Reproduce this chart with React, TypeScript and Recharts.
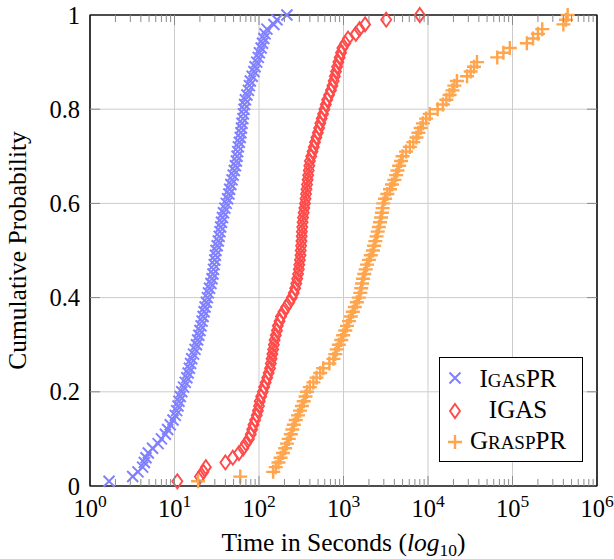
import React from 'react';
import { ScatterChart, Scatter, XAxis, YAxis, CartesianGrid, Legend, ReferenceArea } from 'recharts';

// Run times in seconds, sorted ascending (empirical CDF, one point per instance)
const IGASPR_TIMES = [
  1.68, 3.2, 3.7, 4.2, 4.4, 4.6, 4.9, 5.5, 6.4, 7.0,
  7.8, 8.3, 8.9, 9.6, 10.2, 10.6, 11.0, 11.3, 11.7, 12.2,
  12.8, 13.4, 14.0, 14.5, 15.0, 15.5, 16.0, 16.8, 17.5, 18.2,
  18.8, 19.4, 20.0, 20.6, 21.2, 21.8, 22.4, 23.0, 23.8, 24.5,
  25.2, 26.0, 27.0, 27.8, 28.5, 29.0, 29.5, 30.0, 30.5, 31.0,
  32.0, 33.0, 33.8, 34.5, 35.2, 36.0, 37.0, 38.0, 39.5, 41.0,
  42.5, 44.0, 45.0, 46.5, 48.0, 49.5, 51.0, 52.5, 54.0, 55.0,
  56.0, 57.0, 58.5, 60.0, 61.0, 62.0, 63.0, 64.5, 65.5, 66.5,
  67.5, 69.0, 72.0, 75.0, 77.0, 79.0, 83.0, 87.0, 90.0, 94.0,
  98.0, 101, 106, 110, 114, 118, 124, 150, 163, 214,
];

const IGAS_TIMES = [
  10.8, 20, 22, 23.5, 40, 49, 58, 65, 70, 76,
  80, 83, 86, 90, 94, 97, 100, 102, 106, 111,
  115, 120, 125, 130, 135, 138, 141, 144, 147, 150,
  153, 158, 163, 167, 175, 182, 195, 210, 228, 245,
  258, 268, 276, 283, 290, 296, 300, 305, 310, 312,
  315, 318, 320, 322, 325, 328, 332, 338, 344, 350,
  355, 360, 365, 370, 376, 382, 388, 394, 400, 415,
  430, 445, 460, 478, 497, 515, 532, 552, 573, 595,
  618, 640, 675, 710, 740, 765, 790, 815, 840, 870,
  900, 935, 970, 1050, 1130, 1400, 1550, 1800, 3200, 8000,
];

const GRASPPR_TIMES = [
  19, 60, 147, 158, 170, 180, 192, 204, 214, 225,
  238, 248, 258, 272, 290, 306, 322, 338, 355, 370,
  400, 440, 480, 530, 575, 680, 760, 800, 830, 880,
  940, 990, 1050, 1100, 1160, 1220, 1290, 1360, 1440, 1520,
  1580, 1620, 1660, 1700, 1760, 1830, 1900, 2000, 2100, 2230,
  2300, 2380, 2460, 2540, 2620, 2700, 2780, 2850, 2900, 2950,
  3100, 3300, 3550, 3750, 4000, 4200, 4350, 4550, 4800, 5000,
  5500, 6100, 6700, 7300, 7700, 8200, 8700, 9500, 10500, 13000,
  15000, 16500, 18000, 19500, 20500, 22000, 29000, 32000, 35000, 38000,
  66000, 78000, 93000, 148000, 175000, 200000, 225000, 400000, 430000, 450000,
];

const X_MAJOR_TICKS = [1, 10, 100, 1000, 10000, 100000, 1000000];
const X_TICK_EXPONENTS = ['0', '1', '2', '3', '4', '5', '6'];
const MINOR_MULTIPLIERS = [2, 3, 4, 5, 6, 7, 8, 9];
const X_MINOR_TICKS = X_MAJOR_TICKS.slice(0, -1).flatMap((d) => MINOR_MULTIPLIERS.map((m) => m * d));
const X_ALL_TICKS = [...X_MAJOR_TICKS, ...X_MINOR_TICKS].sort((a, b) => a - b);
const Y_TICKS = [0, 0.2, 0.4, 0.6, 0.8, 1];
const Y_TICK_LABELS = ['0', '0.2', '0.4', '0.6', '0.8', '1'];

const X_TITLE = 'Time in Seconds (';
const Y_TITLE = 'Cumulative Probability';

const FONT = '"Liberation Serif", "Times New Roman", serif';
const BLUE = '#8080ff';
const RED = '#ff4a4a';
const ORANGE = '#ffa54d';
const FRAME = '#1a1a1a';
const GRID = '#cccccc';
const TICK = '#8a8a8a';
const MAJOR_LEN = 10;
const MINOR_LEN = 7;
const TICK_FS = 24.5;
const TITLE_FS = 25.5;
const SUP_FS = 17.5;

const toCdf = (times: number[]) => times.map((t, i) => ({ x: t, y: (i + 1) / times.length }));

const drawCross = (cx: number, cy: number, color: string) => {
  const r = 5.5;
  return (
    <path
      d={`M${cx - r},${cy - r}L${cx + r},${cy + r}M${cx - r},${cy + r}L${cx + r},${cy - r}`}
      stroke={color}
      strokeWidth={2}
      fill="none"
    />
  );
};
const drawDiamond = (cx: number, cy: number, color: string) => {
  const w = 5;
  const h = 7;
  return (
    <path
      d={`M${cx},${cy - h}L${cx + w},${cy}L${cx},${cy + h}L${cx - w},${cy}Z`}
      stroke={color}
      strokeWidth={1.9}
      fill="none"
    />
  );
};
const drawPlus = (cx: number, cy: number, color: string) => {
  const r = 7;
  return (
    <path
      d={`M${cx - r},${cy}L${cx + r},${cy}M${cx},${cy - r}L${cx},${cy + r}`}
      stroke={color}
      strokeWidth={2.4}
      fill="none"
    />
  );
};

const CrossShape = (p: any) => drawCross(p.cx, p.cy, BLUE);
const DiamondShape = (p: any) => drawDiamond(p.cx, p.cy, RED);
const PlusShape = (p: any) => drawPlus(p.cx, p.cy, ORANGE);
const EmptyShape = () => <g />;

const isMajorX = (v: number) => X_MAJOR_TICKS.indexOf(v) >= 0;
const isEdgeX = (v: number) => v === X_MAJOR_TICKS[0] || v === X_MAJOR_TICKS[X_MAJOR_TICKS.length - 1];

// bottom axis: inward tick mark + label for decades
const XBottomTick = (props: any) => {
  const { x, y, payload } = props;
  const idx = X_MAJOR_TICKS.indexOf(payload.value);
  const major = idx >= 0;
  const len = major ? MAJOR_LEN : MINOR_LEN;
  return (
    <g>
      {!isEdgeX(payload.value) && <line x1={x} y1={y} x2={x} y2={y - len} stroke={TICK} strokeWidth={1} />}
      {major && (
        <text x={x} y={y + 31} textAnchor="middle" fontFamily={FONT} fontSize={TICK_FS} fill="#000">
          <tspan>10</tspan>
          <tspan dy={-10} fontSize={SUP_FS}>{X_TICK_EXPONENTS[idx]}</tspan>
        </text>
      )}
    </g>
  );
};

// top axis: inward tick marks only
const XTopTick = (props: any) => {
  const { x, y, payload } = props;
  const len = isMajorX(payload.value) ? MAJOR_LEN : MINOR_LEN;
  if (isEdgeX(payload.value)) return <g />;
  return <line x1={x} y1={y} x2={x} y2={y + len} stroke={TICK} strokeWidth={1} />;
};

const YLeftTick = (props: any) => {
  const { x, y, payload } = props;
  const idx = Y_TICKS.indexOf(payload.value);
  const edge = idx === 0 || idx === Y_TICKS.length - 1;
  return (
    <g>
      {!edge && <line x1={x} y1={y} x2={x + MAJOR_LEN} y2={y} stroke={TICK} strokeWidth={1} />}
      <text x={x - 10} y={y + 8.5} textAnchor="end" fontFamily={FONT} fontSize={TICK_FS} fill="#000">
        {Y_TICK_LABELS[idx]}
      </text>
    </g>
  );
};

const YRightTick = (props: any) => {
  const { x, y, payload } = props;
  const idx = Y_TICKS.indexOf(payload.value);
  if (idx === 0 || idx === Y_TICKS.length - 1) return <g />;
  return <line x1={x} y1={y} x2={x - MAJOR_LEN} y2={y} stroke={TICK} strokeWidth={1} />;
};

const XTitle = (props: any) => {
  const vb = props.viewBox || { x: 90, y: 486, width: 507, height: 73 };
  const cx = vb.x + vb.width / 2;
  const by = vb.y + 65;
  return (
    <text x={cx} y={by} textAnchor="middle" fontFamily={FONT} fontSize={TITLE_FS} fill="#000">
      <tspan>{X_TITLE}</tspan>
      <tspan fontStyle="italic">log</tspan>
      <tspan dy={5} fontSize={SUP_FS}>10</tspan>
      <tspan dy={-5}>)</tspan>
    </text>
  );
};

const YTitle = (props: any) => {
  const vb = props.viewBox || { x: 0, y: 15, width: 90, height: 471 };
  const cy = vb.y + vb.height / 2;
  const bx = vb.x + 26;
  return (
    <text
      x={bx}
      y={cy}
      transform={`rotate(-90, ${bx}, ${cy})`}
      textAnchor="middle"
      fontFamily={FONT}
      fontSize={TITLE_FS}
      fill="#000"
    >
      {Y_TITLE}
    </text>
  );
};

type Seg = { t: string; sc?: boolean };
const LEGEND_LABELS: Seg[][] = [
  [{ t: 'I' }, { t: 'GAS', sc: true }, { t: 'PR' }],
  [{ t: 'IGAS' }],
  [{ t: 'G' }, { t: 'RASP', sc: true }, { t: 'PR' }],
];
const LEGEND_MARKERS = [drawCross, drawDiamond, drawPlus];
const LEGEND_COLORS = [BLUE, RED, ORANGE];

const LegendBox = () => {
  const rowCenters = [21, 54, 85];
  const baselines = [29.5, 61, 92];
  return (
    <svg width={144} height={105} style={{ display: 'block' }}>
      <rect x={0.5} y={0.5} width={143} height={104} fill="#fff" stroke="#000" strokeWidth={1} />
      {LEGEND_LABELS.map((segs, i) => (
        <g key={i}>
          {LEGEND_MARKERS[i](16, rowCenters[i], LEGEND_COLORS[i])}
          <text x={79} y={baselines[i]} textAnchor="middle" fontFamily={FONT} fontSize={25} fill="#000">
            {segs.map((s, j) => (
              <tspan key={j} fontSize={s.sc ? 19 : 25}>{s.t}</tspan>
            ))}
          </text>
        </g>
      ))}
    </svg>
  );
};

const logAxisCommon = {
  type: 'number' as const,
  scale: 'log' as const,
  domain: [1, 1000000] as [number, number],
  interval: 0 as const,
  allowDataOverflow: true,
};

const IGASPR_CDF = toCdf(IGASPR_TIMES);
const IGAS_CDF = toCdf(IGAS_TIMES);
const GRASPPR_CDF = toCdf(GRASPPR_TIMES);

export default function App() {
  return (
    <div style={{ position: 'absolute', left: 0, top: 0, width: 614, height: 559, background: '#fff' }}>
      <ScatterChart width={614} height={559} margin={{ top: 14, right: 16, bottom: 0, left: 0 }}>
        <XAxis xAxisId="grid" dataKey="x" {...logAxisCommon} ticks={X_MAJOR_TICKS} hide />
        <CartesianGrid xAxisId="grid" stroke={GRID} strokeWidth={1} />
        <XAxis
          dataKey="x"
          {...logAxisCommon}
          ticks={X_ALL_TICKS}
          height={73}
          tickSize={0}
          tickMargin={0}
          tickLine={false}
          tick={<XBottomTick />}
          axisLine={{ stroke: FRAME, strokeWidth: 1.2 }}
          label={<XTitle />}
        />
        <XAxis
          xAxisId="top"
          dataKey="x"
          orientation="top"
          {...logAxisCommon}
          ticks={X_ALL_TICKS}
          height={1}
          tickSize={0}
          tickMargin={0}
          tickLine={false}
          tick={<XTopTick />}
          axisLine={{ stroke: FRAME, strokeWidth: 1.2 }}
        />
        <YAxis
          dataKey="y"
          type="number"
          domain={[0, 1]}
          ticks={Y_TICKS}
          interval={0}
          width={90}
          tickSize={0}
          tickMargin={0}
          tickLine={false}
          tick={<YLeftTick />}
          axisLine={{ stroke: FRAME, strokeWidth: 1.2 }}
          label={<YTitle />}
        />
        <YAxis
          yAxisId="right"
          dataKey="y"
          orientation="right"
          type="number"
          domain={[0, 1]}
          ticks={Y_TICKS}
          interval={0}
          width={1}
          tickSize={0}
          tickMargin={0}
          tickLine={false}
          tick={<YRightTick />}
          axisLine={{ stroke: FRAME, strokeWidth: 1.2 }}
        />
        {/* invisible helper series so the auxiliary axes get a scale */}
        <Scatter xAxisId="grid" data={IGASPR_CDF} shape={EmptyShape} legendType="none" isAnimationActive={false} />
        <Scatter xAxisId="top" yAxisId="right" data={IGASPR_CDF} shape={EmptyShape} legendType="none" isAnimationActive={false} />
        <ReferenceArea x1={1} x2={1000000} y1={0} y2={1} fill="none" fillOpacity={0} stroke={FRAME} strokeWidth={1.2} />
        <Scatter name="IgasPR" data={IGASPR_CDF} shape={CrossShape} isAnimationActive={false} />
        <Scatter name="IGAS" data={IGAS_CDF} shape={DiamondShape} isAnimationActive={false} />
        <Scatter name="GraspPR" data={GRASPPR_CDF} shape={PlusShape} isAnimationActive={false} />
        <Legend
          layout="vertical"
          align="center"
          verticalAlign="middle"
          content={() => <LegendBox />}
          wrapperStyle={{ position: 'absolute', left: 439, top: 357, width: 144, height: 105 }}
        />
      </ScatterChart>
    </div>
  );
}
